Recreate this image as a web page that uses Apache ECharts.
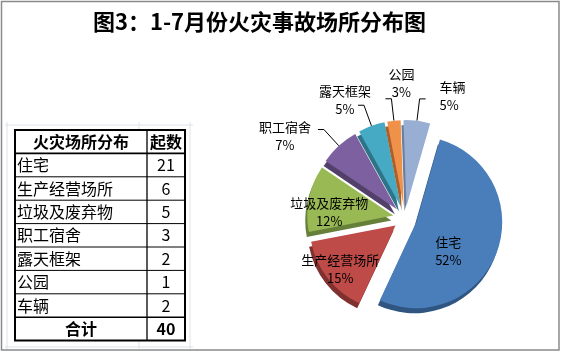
<!DOCTYPE html>
<html>
<head>
<meta charset="utf-8">
<script src="https://cdn.jsdelivr.net/npm/echarts@6/dist/echarts.min.js"></script>
<style>
  html, body { margin: 0; padding: 0; background: #fff; }
  #chart { width: 562px; height: 353px; }
</style>
</head>
<body>
<div id="chart"></div>
<script>
// data
var places = ['住宅', '生产经营场所', '垃圾及废弃物', '职工宿舍', '露天框架', '公园', '车辆'];
var counts = [21, 6, 5, 3, 2, 1, 2];
var pctLabels = [52, 15, 12, 7, 5, 3, 5];
var tableHeader = ['火灾场所分布', '起数'];
var totalLabel = '合计';

var colors = ['#4A7EBB', '#BE4B48', '#98B954', '#7D60A0', '#46AAC5', '#F0914A', '#98AED3'];
var sideColors = ['#2F5580', '#80302E', '#66803A', '#52406A', '#2E7387', '#A8602C', '#6A7E9E'];
var font = 'Noto Sans CJK SC';

var chartDom = document.getElementById('chart');
var myChart = echarts.init(chartDom);

// table on the left
var tX = 15, tW1 = 132, tW2 = 38, tY = 130, rowH = 23.4;
var rows = places.length + 2;
var tH = rows * rowH;
var graphics = [];

// faint sheet grid behind the table
var faint = '#dde3ea';
[7, 139, 190].forEach(function (x) {
  graphics.push({ type: 'line', shape: { x1: x, y1: 122, x2: x, y2: 349 }, style: { stroke: faint, lineWidth: 1 } });
});
[125, 347].forEach(function (y) {
  graphics.push({ type: 'line', shape: { x1: 5, y1: y, x2: 193, y2: y }, style: { stroke: faint, lineWidth: 1 } });
});
graphics.push({ type: 'rect', shape: { x: tX, y: tY, width: tW1 + tW2, height: tH }, style: { fill: '#fff', stroke: null } });

for (var r = 1; r < rows; r++) {
  var thick = (r === 1 || r === rows - 1);
  graphics.push({
    type: 'line',
    shape: { x1: tX, y1: tY + r * rowH, x2: tX + tW1 + tW2, y2: tY + r * rowH },
    style: { stroke: '#000', lineWidth: thick ? 1.6 : 1 }
  });
}
graphics.push({ type: 'line', shape: { x1: tX + tW1, y1: tY, x2: tX + tW1, y2: tY + tH }, style: { stroke: '#000', lineWidth: 1.3 } });
graphics.push({ type: 'rect', shape: { x: tX, y: tY, width: tW1 + tW2, height: tH }, style: { fill: null, stroke: '#000', lineWidth: 2 } });

function cellText(txt, x, y, align, bold) {
  graphics.push({
    type: 'text', x: x, y: y,
    style: {
      text: txt, fill: '#000', font: (bold ? 'bold ' : '') + '16px "' + font + '"',
      textAlign: align, textVerticalAlign: 'middle'
    }
  });
}
cellText(tableHeader[0], tX + tW1 / 2, tY + rowH / 2, 'center', true);
cellText(tableHeader[1], tX + tW1 + tW2 / 2, tY + rowH / 2, 'center', true);
var total = 0;
places.forEach(function (p, i) {
  var cy = tY + (i + 1.5) * rowH;
  cellText(p, tX + 2, cy, 'left', false);
  cellText(String(counts[i]), tX + tW1 + tW2 / 2, cy, 'center', false);
  total += counts[i];
});
cellText(totalLabel, tX + tW1 / 2, tY + (rows - 0.5) * rowH, 'center', true);
cellText(String(total), tX + tW1 + tW2 / 2, tY + (rows - 0.5) * rowH, 'center', true);

// outer frame
graphics.push({ type: 'rect', shape: { x: 1.5, y: 1.5, width: 557.5, height: 348.5 }, style: { fill: null, stroke: '#8a8a8a', lineWidth: 1.5 } });

// small nudges of the slice labels, like the hand-placed labels of the original
var labelNudge = [[-11, 13], [-19, 15], [-19, 6], [-28, 7], [-8, -5], [21, -16], [9, -3]];
var labelAlign = [null, null, null, 'center', 'center', 'center', 'left'];

var option = {
  animation: false,
  title: {
    left: 88,
    top: 6,
    text: '图3：1-7月份火灾事故场所分布图',
    textStyle: { color: '#000', fontWeight: 'bold', fontSize: 22, fontFamily: font }
  },
  graphic: graphics,
  series: [
    {
      type: 'pie',
      center: [405, 218],
      radius: 86,
      startAngle: 74,
      clockwise: true,
      selectedMode: 'multiple',
      selectedOffset: 12,
      avoidLabelOverlap: false,
      emphasis: { disabled: true },
      label: {
        color: '#000',
        fontSize: 13,
        lineHeight: 18,
        fontFamily: font,
        formatter: function (p) {
          return p.name + '\n' + pctLabels[p.dataIndex] + '%';
        }
      },
      labelLine: { length: 22, length2: 6, smooth: false, lineStyle: { color: '#000', width: 1 } },
      labelLayout: function (params) {
        var i = params.dataIndex;
        var out = { dx: labelNudge[i][0], dy: labelNudge[i][1], hideOverlap: false };
        if (labelAlign[i]) out.align = labelAlign[i];
        return out;
      },
      data: places.map(function (name, i) {
        return {
          name: name,
          value: counts[i],
          selected: true,
          itemStyle: {
            color: colors[i],
            shadowColor: sideColors[i],
            shadowBlur: 0,
            shadowOffsetX: -2,
            shadowOffsetY: 5
          },
          label: { position: i < 3 ? 'inside' : 'outside' }
        };
      })
    }
  ]
};

option && myChart.setOption(option);
window.addEventListener('resize', function () {
  myChart.resize();
});
</script>
</body>
</html>
